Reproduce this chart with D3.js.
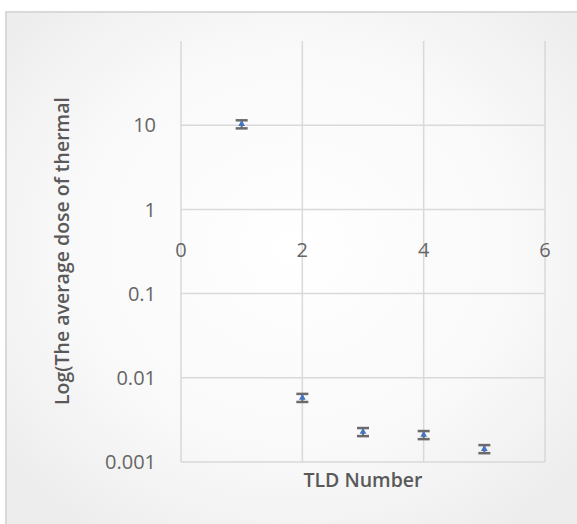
<!DOCTYPE html>
<html><head><meta charset="utf-8">
<script src="https://cdn.jsdelivr.net/npm/d3@7"></script>
<style>body{margin:0;background:#fff}svg{display:block}</style>
</head><body>
<script>
const tldNumbers = [1, 2, 3, 4, 5];
const avgDose = [10.3, 0.0058, 0.00228, 0.0021, 0.00143];
const errFraction = [0.11, 0.11, 0.11, 0.11, 0.11];
const xTicks = [0, 2, 4, 6];
const yTicks = [0.001, 0.01, 0.1, 1, 10];
const yTickLabels = ["0.001", "0.01", "0.1", "1", "10"];

const W = 577, H = 524;
const svg = d3.select("body").append("svg").attr("width", W).attr("height", H);
const defs = svg.append("defs");
const rg = defs.append("radialGradient").attr("id","bg").attr("cx","50%").attr("cy","45%").attr("r","65%");
rg.append("stop").attr("offset","0%").attr("stop-color","#ffffff");
rg.append("stop").attr("offset","60%").attr("stop-color","#f9f9f9");
rg.append("stop").attr("offset","100%").attr("stop-color","#ededed");

svg.append("rect").attr("x",6).attr("y",12).attr("width",W).attr("height",H)
  .attr("fill","url(#bg)").attr("stroke","#d9d9d9").attr("stroke-width",2);

const x = d3.scaleLinear().domain([0, 6]).range([181, 545]);
const y = d3.scaleLog().domain([0.001, 100]).range([462, 41]);

const g = svg.append("g");
g.selectAll(".vg").data(xTicks).join("line")
  .attr("x1", d => x(d)).attr("x2", d => x(d)).attr("y1", y(100)).attr("y2", y(0.001))
  .attr("stroke", "#d9d9d9").attr("stroke-width", 1.5);
g.selectAll(".hg").data(yTicks).join("line")
  .attr("x1", x(0)).attr("x2", x(6)).attr("y1", d => y(d)).attr("y2", d => y(d))
  .attr("stroke", "#d9d9d9").attr("stroke-width", 1.5);

const font = "'Open Sans', sans-serif";
g.selectAll(".yl").data(yTicks).join("text")
  .attr("x", 156).attr("y", d => y(d)).attr("dy", "0.36em")
  .attr("text-anchor", "end").attr("font-family", font).attr("font-size", 20)
  .attr("fill", "#666666").text((d, i) => yTickLabels[i]);
g.selectAll(".xl").data(xTicks).join("text")
  .attr("x", d => x(d)).attr("y", 250).attr("dy", "0.36em")
  .attr("text-anchor", "middle").attr("font-family", font).attr("font-size", 20)
  .attr("fill", "#666666").text(d => d);

svg.append("text").attr("x", x(3)).attr("y", 480).attr("dy", "0.36em")
  .attr("text-anchor", "middle").attr("font-family", font).attr("font-size", 19.5)
  .attr("font-weight", 600).attr("fill", "#595959").text("TLD Number");
svg.append("text").attr("transform", "translate(62,251) rotate(-90)")
  .attr("dy", "0.36em").attr("text-anchor", "middle").attr("font-family", font)
  .attr("font-size", 19.5).attr("font-weight", 600).attr("fill", "#595959")
  .text("Log(The average dose of thermal");

const data = tldNumbers.map((t, i) => ({t, v: avgDose[i], e: avgDose[i] * errFraction[i]}));
const eb = svg.append("g").attr("stroke", "#6a6a6a");
data.forEach(d => {
  const cx = x(d.t), y1 = y(d.v + d.e), y0 = y(d.v - d.e);
  eb.append("line").attr("x1", cx).attr("x2", cx).attr("y1", y1).attr("y2", y0).attr("stroke-width", 2);
  eb.append("line").attr("x1", cx - 6).attr("x2", cx + 6).attr("y1", y1).attr("y2", y1).attr("stroke-width", 2.5);
  eb.append("line").attr("x1", cx - 6).attr("x2", cx + 6).attr("y1", y0).attr("y2", y0).attr("stroke-width", 2.5);
});
svg.append("g").selectAll("path").data(data).join("path")
  .attr("transform", d => `translate(${x(d.t)},${y(d.v)})`)
  .attr("d", d3.symbol(d3.symbolTriangle, 20))
  .attr("fill", "#4472C4");
</script>
</body></html>
